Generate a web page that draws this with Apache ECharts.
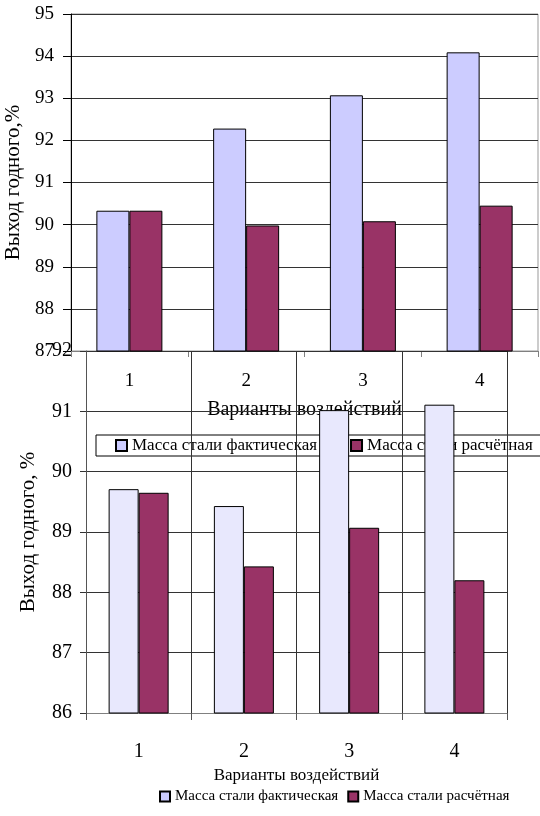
<!DOCTYPE html>
<html><head><meta charset="utf-8">
<script src="https://cdn.jsdelivr.net/npm/echarts@6/dist/echarts.min.js"></script>
<style>html,body{margin:0;padding:0;background:#fff}#c{width:540px;height:816px}</style>
</head><body><div id="c"></div>
<script>
const categories = ['1', '2', '3', '4'];
const seriesNames = ['Масса стали фактическая', 'Масса стали расчётная'];
const topActual = [90.33, 92.28, 93.07, 94.09];
const topCalc = [90.33, 89.98, 90.08, 90.45];
const bottomActual = [89.71, 89.43, 91.02, 91.11];
const bottomCalc = [89.65, 88.43, 89.07, 88.20];
const xTitle = 'Варианты воздействий';
const yTitleTop = 'Выход годного,%';
const yTitleBottom = 'Выход годного, %';

const F = 'Liberation Serif, Times New Roman, serif';
const chart = echarts.init(document.getElementById('c'), null, {renderer: 'canvas'});
chart.setOption({
  animation: false,
  backgroundColor: '#fff',
  textStyle: {fontFamily: F, color: '#000'},
  legend: [
    {
      data: seriesNames, left: 96, top: 435, z: 0, width: 700, icon: 'rect',
      orient: 'horizontal', itemWidth: 11, itemHeight: 11, itemGap: 33,
      padding: [2, 40, 2, 19], borderColor: '#000', borderWidth: 1,
      textStyle: {fontFamily: F, fontSize: 17, color: '#000'}
    },
    {
      data: seriesNames, left: 159, top: 789, icon: 'rect', width: 500,
      itemWidth: 10, itemHeight: 10, itemGap: 9, padding: 0,
      textStyle: {fontFamily: F, fontSize: 15, color: '#000'}
    }
  ],
  grid: [
    {left: 71, top: 14, width: 467, height: 337, outerBoundsMode: 'none', containLabel: false,
     show: true, borderColor: '#999', borderWidth: 1, backgroundColor: 'transparent'},
    {left: 86, top: 351, width: 421, height: 362, outerBoundsMode: 'none', containLabel: false}
  ],
  xAxis: [
    {
      type: 'category', gridIndex: 0, data: categories, z: 0,
      axisLine: {lineStyle: {color: '#808080', width: 1}},
      axisTick: {show: true, length: 6, lineStyle: {color: '#808080'}},
      axisLabel: {fontFamily: F, fontSize: 19, color: '#000', margin: 21},
      name: xTitle, nameLocation: 'middle', nameGap: 49,
      nameTextStyle: {fontFamily: F, fontSize: 20, color: '#000'}
    },
    {
      type: 'category', gridIndex: 1, data: categories, z: 1,
      axisLine: {lineStyle: {color: '#808080', width: 1}},
      axisTick: {show: true, length: 7, lineStyle: {color: '#555'}},
      splitLine: {show: true, lineStyle: {color: '#333', width: 1}},
      axisLabel: {fontFamily: F, fontSize: 20, color: '#000', margin: 29},
      name: xTitle, nameLocation: 'middle', nameGap: 54,
      nameTextStyle: {fontFamily: F, fontSize: 17, color: '#000'}
    }
  ],
  yAxis: [
    {
      type: 'value', gridIndex: 0, min: 87, max: 95, interval: 1, z: 0,
      axisLine: {show: true, lineStyle: {color: '#000', width: 1}},
      axisTick: {show: true, length: 8, lineStyle: {color: '#000'}},
      splitLine: {show: true, lineStyle: {color: '#333', width: 1}},
      axisLabel: {fontFamily: F, fontSize: 19, color: '#000', margin: 17},
      name: yTitleTop, nameLocation: 'middle', nameGap: 43, nameRotate: 90,
      nameTextStyle: {fontFamily: F, fontSize: 21, color: '#000'}
    },
    {
      type: 'value', gridIndex: 1, min: 86, max: 92, interval: 1, z: 1,
      axisLine: {show: true, lineStyle: {color: '#555', width: 1}},
      axisTick: {show: true, length: 6, lineStyle: {color: '#333'}},
      splitLine: {show: true, lineStyle: {color: '#333', width: 1}},
      axisLabel: {fontFamily: F, fontSize: 20, color: '#000', margin: 14},
      name: yTitleBottom, nameLocation: 'middle', nameGap: 47, nameRotate: 90,
      nameTextStyle: {fontFamily: F, fontSize: 21, color: '#000'}
    }
  ],
  series: [
    {name: seriesNames[0], type: 'bar', xAxisIndex: 0, yAxisIndex: 0, data: topActual, barWidth: 33, barGap: '0%', z: 2,
     itemStyle: {color: '#CCCCFF', borderColor: '#000', borderWidth: 1}},
    {name: seriesNames[1], type: 'bar', xAxisIndex: 0, yAxisIndex: 0, data: topCalc, barWidth: 33, barGap: '0%', z: 2,
     itemStyle: {color: '#993366', borderColor: '#000', borderWidth: 1}},
    {name: seriesNames[0], type: 'bar', xAxisIndex: 1, yAxisIndex: 1, data: bottomActual, barWidth: 30, barGap: '0%', z: 3,
     itemStyle: {color: '#E8E8FD', borderColor: '#000', borderWidth: 1}},
    {name: seriesNames[1], type: 'bar', xAxisIndex: 1, yAxisIndex: 1, data: bottomCalc, barWidth: 30, barGap: '0%', z: 3,
     itemStyle: {color: '#993366', borderColor: '#000', borderWidth: 1}}
  ]
});
</script></body></html>
